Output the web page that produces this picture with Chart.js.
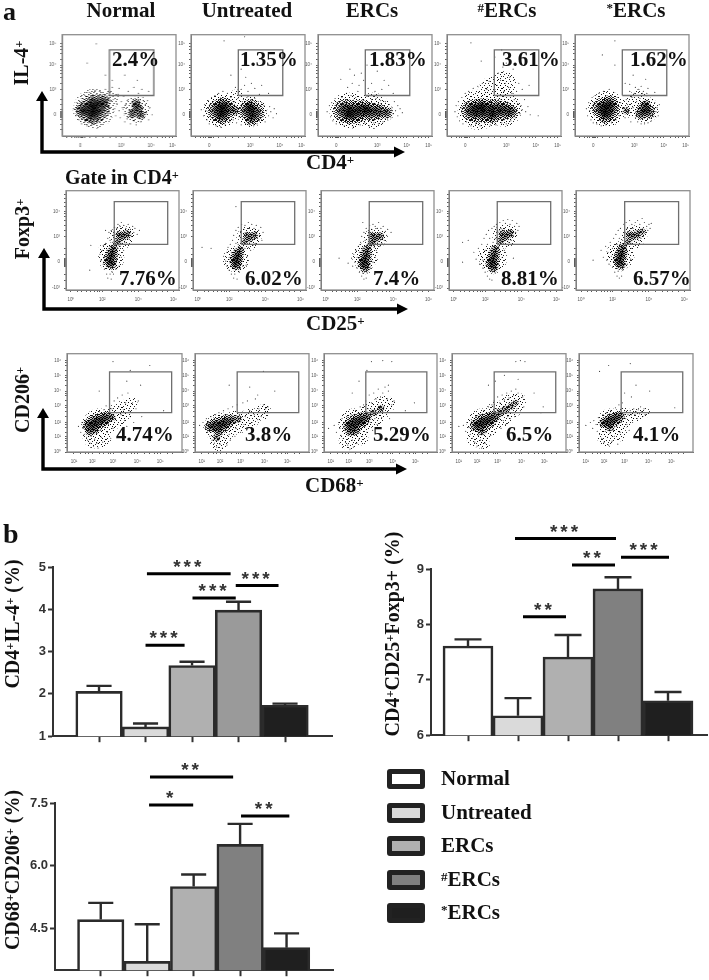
<!DOCTYPE html>
<html><head><meta charset="utf-8">
<script src="https://cdn.jsdelivr.net/npm/chart.js@4"></script>
<style>
html,body{margin:0;padding:0;background:#fff;width:709px;height:980px;overflow:hidden}
#page{position:relative;width:709px;height:980px;overflow:hidden}
canvas{position:absolute}
.t{position:absolute;font:bold 21px "Liberation Serif",serif;color:#111;white-space:nowrap;line-height:1;transform:translateY(-50%)}
.c{transform:translate(-50%,-50%)}
.r{transform:translate(-50%,-50%) rotate(-90deg)}
.t sup{font-size:.62em;line-height:0;vertical-align:baseline;position:relative;top:-.42em}
.sw{position:absolute;width:28px;height:10px;border:5px solid #222;border-radius:3px}
svg{position:absolute;left:0;top:0}
</style></head><body><div id="page"></div>
<script>
/* ---------- data ---------- */
const groups = ['Normal','Untreated','ERCs','<sup>#</sup>ERCs','<sup>*</sup>ERCs'];
const groupFills = ['#ffffff','#dadada','#b0b0b0','#808080','#1f1f1f'];

const il4Pct  = ['2.4%','1.35%','1.83%','3.61%','1.62%'];
const foxPct  = ['7.76%','6.02%','7.4%','8.81%','6.57%'];
const cd206Pct= ['4.74%','3.8%','5.29%','6.5%','4.1%'];

/* cytometry axes, channel units 0-100 */
const il4XTicks = [16,52,78,97], il4XLabels = ['0','10³','10⁴','10⁵'];
const il4XMinor = [4,8,11,13,15,17,18,20,24,30,36,42,47,60,65,69,72,75,84,88,91,94];
const il4YTicks = [21,46,70,91.5], il4YLabels = ['0','10³','10⁴','10⁵'];
const il4YMinor = [6,11,16,18,19,20,22,23,24,26,31,36,52,58,62,65,68,76,81,85,88];
const foxXTicks = [4.4,32,64,95], foxXLabels = ['10⁰','10²','10⁴','10⁶'];
const foxXMinor = [10,14,18,22,25,28,30,40,46,50,54,58,61,70,76,80,85,90];
const foxYTicks = [2,28,54,79], foxYLabels = ['-10³','0','10³','10⁴'];
const foxYMinor = [10,16,24,25,26,27,29,30,31,32,36,42,60,65,70,74,77,84,88,92,96];
const cdXTicks = [6,22,40,61,81], cdXLabels = ['10¹','10²','10³','10⁴','10⁵'];
const cdXMinor = [12,16,19,28,32,36,38,47,52,56,59,67,72,76,79,87,92];
const cdYTicks = [0,15.5,30,47,62,78,93], cdYLabels = ['10⁰','10¹','10²','10³','10⁴','10⁵','10⁶'];
const cdYMinor = [5,9,12,14,20,25,28,36,41,45,52,57,60,68,73,76,83,88,91];
const il4Gate = [41.5,40,80.5,85], foxGate = [42.7,46,90,89], cdGate = [37,40,91,81.5];

/* dense regions: x,y,radius  |  thin clouds: x,y,radius  |  single events: x,y */
const il4Core1=[24,26,10,31,27,10,27,21,8,28,32,8,36,34,6,18,25,6,66,27,5,62,22,4,69,21,4,65,32,4];
const il4Thin1=[28,27,20,65,26,13,42,36,9];
const il4Dots1=[10,27,12,20,13,33,14,24,15,16,16,30,17,37,17,12,18,21,20,40,20,14,22,10,24,43,26,11,29,45,31,13,33,44,35,16,37,19,38,46,40,24,41,29,42,43,44,48,45,36,46,27,47,20,48,32,49,41,50,25,51,18,52,34,53,28,54,39,55,22,55,14,56,31,57,17,58,36,59,26,60,12,60,40,61,20,62,30,63,15,64,37,65,11,66,19,67,42,68,33,69,14,70,27,71,38,72,18,73,31,74,23,75,35,76,16,77,28,79,21,44,55,50,47,58,44,63,48,70,46,76,44,55,60,38,60,22,72,66,55,30,91];
const il4Core2=[24,25,9,30,26,9,27,20,7,28,30,7,50,25,8,56,23,8,53,18,6,52,29,6,38,25,4];
const il4Thin2=[26,25,17,53,24,15,40,38,8];
const il4Dots2=[9,26,11,20,12,31,13,25,14,16,15,35,16,12,18,38,19,14,21,40,22,10,24,42,26,9,28,44,30,11,32,42,34,14,35,38,37,16,38,34,40,13,41,37,42,19,43,40,44,11,45,34,46,36,48,12,49,38,50,39,51,11,53,36,55,10,56,37,58,12,59,34,60,15,62,33,63,19,64,30,65,14,66,25,68,20,69,29,70,24,72,18,73,27,75,22,44,46,47,50,50,44,53,52,48,58,56,47,60,41,62,50,68,42,39,48,35,60,44,66,29,94,47,98];
const il4Core3=[24,25,10,31,24,10,38,25,9,46,24,8,53,24,7,60,23,5,28,21,7,42,27,6];
const il4Thin3=[28,25,18,48,25,18];
const il4Dots3=[8,24,10,30,11,19,12,33,13,15,14,27,15,37,16,12,18,40,19,13,21,38,23,10,25,42,27,12,29,40,31,9,33,38,35,44,37,11,39,36,41,13,43,39,45,10,47,36,49,13,51,37,53,12,55,35,57,14,59,34,61,16,62,31,64,18,65,28,66,22,67,34,68,25,70,20,70,30,72,27,74,23,44,47,47,52,40,55,36,50,32,60,28,66,50,44,56,46,58,55,62,50,66,42,30,52,26,48,20,56,43,70,38,62,52,64];
const il4Core4=[22,25,9,28,25,10,35,25,10,43,26,9,50,25,8,56,24,6,30,30,6,40,20,6];
const il4Thin4=[28,26,20,50,27,18,40,45,14,50,52,12];
const il4Dots4=[7,24,8,30,9,19,10,34,11,15,12,28,13,38,14,12,16,42,17,14,19,44,21,10,23,47,25,12,27,49,29,10,31,52,33,13,35,46,37,54,38,11,39,42,41,58,42,46,43,11,44,50,45,62,46,40,47,55,48,13,49,68,50,44,51,52,52,12,53,40,54,48,55,58,56,15,57,42,58,66,59,36,60,18,61,44,62,32,63,52,64,22,65,30,66,26,68,36,69,24,71,29,73,21,30,74,42,78,52,72,68,70,48,85,21,92,72,50,66,46,38,34,80,20];
const il4Core5=[24,27,9,29,26,10,27,21,7,30,32,7,61,27,6,64,24,6,58,22,5,62,31,4,45,25,3];
const il4Thin5=[28,27,18,62,26,13,46,28,10,55,38,8];
const il4Dots5=[10,27,11,20,12,33,13,25,14,16,15,38,16,13,18,40,19,12,21,42,23,10,25,44,27,11,30,46,32,13,34,43,36,16,37,38,39,20,40,33,41,24,42,28,43,40,44,18,45,36,46,31,47,23,48,44,49,14,50,38,51,28,52,42,53,18,54,34,55,14,56,46,57,37,58,12,59,42,60,44,61,12,63,42,64,13,66,40,67,15,68,36,69,19,70,33,71,24,72,28,73,20,74,31,48,51,53,48,58,49,64,47,70,43,44,52,51,60,62,56,35,70,24,80,35,94];

const foxCore1=[40,26,4.5,39,30,5.5,40,34,5.5,41,38,4.5,42,42,3.5,46,49,3.5,50,54,4,54,56,3.5,47,56,3];
const foxThin1=[40,32,13,49,53,12,55,57,7,35,40,7];
const foxDots1=[30,36,31,30,32,40,33,26,33,45,34,34,34,21,35,30,35,47,36,16,36,24,36,40,37,52,37,12,38,58,39,16,39,50,40,11,40,60,41,18,41,48,42,55,42,16,43,63,43,28,44,21,44,46,44,38,45,62,45,31,46,66,46,42,47,24,47,36,48,64,48,44,49,33,49,68,50,47,51,40,51,65,52,48,53,62,54,46,55,66,56,51,57,61,58,54,59,64,60,58,61,62,63,56,65,60,22,45,21,20,35,60];
const foxCore2=[38,25,4.5,38,29,5.5,39,33,5.5,40,37,4.5,42,41,3,46,49,3,50,52,3.5,54,55,3.5,48,55,3];
const foxThin2=[38,31,13,49,52,12,55,55,7];
const foxDots2=[27,34,29,29,30,38,30,24,31,43,32,33,32,20,33,28,33,46,34,16,34,38,35,22,35,50,36,12,36,55,37,16,38,60,38,47,39,11,40,63,40,46,41,18,41,54,42,59,42,22,43,66,43,30,44,46,44,24,45,61,45,36,46,65,46,42,47,25,47,58,48,34,49,68,49,43,50,62,51,40,52,66,53,45,54,62,55,47,56,65,57,52,58,60,59,55,60,63,61,50,62,58,8,43,16,42,38,84];
const foxCore3=[39,23,4.5,38,27,5.5,39,31,5.5,40,36,5,41,41,3.5,45,48,3.5,48,52,4,52,54,3.5,45,55,3];
const foxThin3=[39,34,13,47,51,11,53,53,7];
const foxDots3=[24,27,27,32,28,24,29,36,30,28,31,40,32,22,32,33,33,44,34,18,34,38,35,26,35,48,36,14,36,54,37,17,37,42,38,58,38,11,39,50,40,12,40,62,41,17,41,46,42,60,42,24,43,65,43,33,44,42,44,22,45,61,45,36,46,66,46,28,47,43,48,64,48,33,49,40,50,62,50,45,51,68,52,44,53,62,54,47,55,64,56,50,57,59,58,55,59,61,16,32,37,68,62,58];
const foxCore4=[39,23,4.5,38,27,5.5,39,31,5.5,40,36,5,41,41,3.5,46,50,3.5,50,54,4,54,57,3.5,47,57,3];
const foxThin4=[39,32,14,49,54,12,55,57,7,32,35,7];
const foxDots4=[12,48,17,50,22,38,24,31,26,42,27,26,28,36,29,46,30,22,30,30,31,52,32,18,32,40,33,25,33,56,34,14,34,46,35,34,35,60,36,11,36,52,37,19,38,62,38,10,39,48,40,64,41,17,41,52,42,66,42,22,43,34,43,60,44,44,44,26,45,68,45,38,46,62,47,33,47,46,48,70,49,40,49,60,50,67,51,44,52,71,53,48,54,66,55,50,56,70,57,54,58,64,59,58,60,67,61,60,62,64,57,32,12,28];
const foxCore5=[39,26,4.5,38,30,5.5,39,34,5.5,40,38,5,41,43,3.5,46,49,3,50,54,3.5,54,56,3.5,47,56,3,58,59,2.5];
const foxThin5=[39,35,14,50,53,12,57,57,7,33,38,7];
const foxDots5=[22,40,24,33,26,44,27,30,28,38,29,26,30,48,31,34,32,23,32,42,33,52,34,18,34,36,35,26,35,56,36,14,36,46,37,60,37,19,38,12,38,52,39,62,40,14,41,20,41,50,42,66,42,24,43,58,43,32,44,68,44,42,45,26,45,62,46,36,47,70,47,46,48,31,49,66,49,42,50,62,51,46,52,68,53,48,54,70,55,50,56,66,57,52,58,72,59,54,60,68,61,58,62,64,63,60,64,66,65,62,66,67,15,30];

const cdCore1=[19,27,5,23,29,7,27,31,7,31,33,6,35,35,5,24,23,4,20,21,4,39,35,3];
const cdThin1=[24,16,12,28,28,16,42,36,12,50,43,10,56,50,6,32,12,7];
const cdDots1=[10,26,12,20,13,30,14,24,15,18,16,32,17,15,17,25,18,12,19,34,20,9,21,16,22,36,23,6,24,13,25,38,26,19,26,9,27,4,28,41,29,22,30,15,31,10,32,43,33,25,34,47,35,20,36,28,37,49,38,14,38,37,39,44,40,24,41,52,42,34,43,40,44,55,44,28,45,46,46,20,47,38,48,58,49,43,50,32,51,50,52,26,53,60,54,42,55,36,57,50,58,30,60,44,62,52,65,36,28,62,52,72,64,68,84,42,55,83,72,88,40,92];
const cdCore2=[14,26,5,19,27,7,24,28,7,28,31,6,33,33,4,21,21,4,19,15,3,38,34,3];
const cdThin2=[21,10,9,22,24,15,36,30,12,48,34,10,58,40,8,62,44,5];
const cdDots2=[4,27,7,30,9,24,10,34,11,20,12,30,13,16,14,36,15,12,16,22,17,9,18,38,19,5,20,12,21,40,22,8,23,18,24,4,25,42,26,14,27,22,28,7,29,44,30,18,31,12,32,26,33,46,34,34,35,16,36,24,37,48,38,30,39,38,40,20,42,50,43,28,44,36,46,52,47,32,48,42,50,30,52,38,53,54,55,33,56,44,58,36,60,48,62,44,64,40,55,58,64,46,60,82,30,68,48,66,70,62];
const cdCore3=[22,27,5,26,29,7,30,31,7,34,33,6,38,36,4,27,23,5,23,21,4,44,40,3,50,44,3];
const cdThin3=[22,12,10,27,28,16,42,38,13,52,46,11,58,50,6,33,14,7];
const cdDots3=[4,24,9,27,11,20,13,30,14,24,15,17,16,34,17,14,18,22,19,10,20,36,21,7,22,18,23,3,24,38,25,12,26,5,27,17,28,42,29,9,30,20,31,13,32,46,33,24,34,16,35,48,36,26,37,52,38,20,39,44,40,58,41,30,42,50,43,22,44,60,45,34,46,54,47,28,48,64,49,40,50,56,51,35,52,60,53,46,54,66,55,40,56,54,57,62,58,34,60,48,62,52,25,60,31,72,38,83,57,68,72,42,80,50,42,92,52,93,60,92];
const cdCore4=[21,27,5,25,29,7,29,31,7,33,33,6,37,36,5,26,22,4,42,40,3.5,47,43,3.5,52,47,3,56,50,2.5];
const cdThin4=[22,16,11,27,28,16,41,38,14,52,47,12,58,52,8,28,8,6];
const cdDots4=[6,26,10,27,12,21,13,30,15,25,16,18,17,33,18,14,19,22,20,10,21,36,22,6,23,17,24,38,25,12,26,4,27,18,28,42,29,9,30,20,31,14,32,46,33,24,34,17,35,48,36,26,37,52,38,20,39,44,40,56,41,28,42,50,43,24,44,58,45,32,46,53,47,28,48,60,49,36,50,55,51,34,52,62,53,40,54,58,55,36,56,64,57,44,58,60,60,42,62,56,63,46,32,68,38,72,46,78,58,74,72,60,78,40,80,46,56,92,60,93,64,92];
const cdCore5=[22,30,4,26,31,6,30,33,6,34,35,5,27,26,4,37,37,3];
const cdThin5=[24,14,9,28,30,14,40,35,10,50,38,7,58,40,5,36,18,7];
const cdDots5=[6,27,10,30,12,24,13,32,15,28,16,21,17,35,18,18,19,26,20,14,21,38,22,10,23,21,24,40,25,15,26,7,27,19,28,42,29,11,30,22,31,16,32,45,33,26,34,8,35,48,36,20,37,30,38,50,39,24,40,42,41,34,42,28,43,38,44,22,45,42,46,38,47,30,48,44,49,38,50,41,51,34,52,43,53,39,54,46,55,41,56,36,57,44,58,38,40,60,46,56,50,68,62,62,18,82,26,88,45,90,84,45];

/* bar panels */
const il4Values=[2.06,1.22,2.67,3.98,1.73], il4Caps=[2.19,1.30,2.76,4.18,1.77], il4Ticks=[1,2,3,4,5];
const il4Brackets=[[2.03,3.83,4.84,'***'],[3.01,3.94,4.27,'***'],[3.94,4.86,4.56,'***'],[2.0,2.84,3.15,'***']];
const foxValues=[7.61,6.35,7.41,8.64,6.62], foxCaps=[7.73,6.67,7.81,8.85,6.78], foxTicks=[6,7,8,9];
const foxBrackets=[[1.94,3.96,9.55,'***'],[3.08,3.94,9.07,'**'],[4.06,5.02,9.21,'***'],[2.1,2.96,8.14,'**']];
const cdValues=[4.71,3.71,5.5,6.51,4.04], cdCaps=[5.11,4.60,5.79,7.0,4.38], cdTicks=[4.5,6,7.5];
const cdBrackets=[[2.06,3.85,8.12,'**'],[2.04,2.99,7.45,'*'],[4.02,5.06,7.19,'**']];

/* ---------- texture of the dense event clouds ---------- */
const sparseTile=["1000000100000010","0000100000100000","0010000000000100","0000001000010000","1000000000100001","0001000100000000","0000000000001000","0100010000000010","0000000010000000","0010000001000100","0000100000000000","1000000100010000","0000000000000011","0001001000100000","0100000000000100","0000010010000000"];
const denseTile=["1011001011010010","0100110100101101","1101001001110010","0010110110001101","1100101001101000","0011010110010110","1010011001101001","0101100110010110","1001011010110001","0110100101001110","1011010010110100","0100101101001011","1101100100110010","0010011011001101","1001110100100110","0110001011011001"];
function tile(rows,alpha){const c=document.createElement('canvas');c.width=16;c.height=16;const k=c.getContext('2d');k.fillStyle='rgba(0,0,0,'+alpha+')';
  rows.forEach((r,y)=>[...r].forEach((b,x)=>{if(b==='1')k.fillRect(x,y,1,1);}));return k.createPattern(c,'repeat');}

/* ---------- layout ---------- */
const page=document.getElementById('page');
const sparsePat=tile(sparseTile,.65),densePat=tile(denseTile,.75),thinPat=tile(sparseTile,.85);
function text(html,x,y,size,cls){const d=document.createElement('div');d.className='t '+(cls||'');d.innerHTML=html;
  d.style.left=x+'px';d.style.top=y+'px';d.style.fontSize=size+'px';page.appendChild(d);return d;}
function pairs(a){const o=[];for(let i=0;i<a.length;i+=2)o.push({x:a[i],y:a[i+1]});return o;}
function triples(a,s){const o=[];for(let i=0;i<a.length;i+=3)o.push({x:a[i],y:a[i+1],r:a[i+2]*s});return o;}
const blurPlugin={id:'blurCore',
  beforeDatasetDraw(c,a){const b=c.data.datasets[a.index].blur;if(b){c.ctx.save();c.ctx.filter='blur('+b+'px)';}},
  afterDatasetDraw(c,a){if(c.data.datasets[a.index].blur){c.ctx.restore();}},
  afterDraw(c){const k=c.ctx,a=c.chartArea;k.save();k.strokeStyle='#8f8f8f';k.lineWidth=1.3;k.strokeRect(a.left,a.top,a.right-a.left,a.bottom-a.top);k.restore();}};
function tickAxis(pos,minor,labels,len,pad,isX){const all=pos.concat(minor);return {type:'linear',min:0,max:100,
  afterBuildTicks:s=>{s.ticks=all.map(v=>({value:v}));},
  afterFit:s=>{if(isX)s.height=16;else s.width=24;},
  border:{color:'#666',width:1},
  grid:{drawOnChartArea:false,tickLength:len,tickColor:'#333',tickWidth:.8},
  ticks:{autoSkip:false,maxRotation:0,padding:pad,color:'#555',font:{size:4.5,family:'"Liberation Sans"'},
    callback:v=>{const i=pos.indexOf(v);return i<0?'':labels[i];}}};}
function panel(box,core,thin,dots,gate,xp,xm,xl,yp,ym,yl){
  const [L,T,R,B]=box;const cv=document.createElement('canvas');
  const w=R-L+24+4,h=B-T+2+16;cv.width=w;cv.height=h;cv.style.left=(L-24)+'px';cv.style.top=(T-2)+'px';
  cv.style.width=w+'px';cv.style.height=h+'px';page.appendChild(cv);
  const [g0,g1,g2,g3]=gate;
  new Chart(cv,{type:'scatter',plugins:[blurPlugin],data:{datasets:[
    {data:[{x:g0,y:g1},{x:g2,y:g1},{x:g2,y:g3},{x:g0,y:g3},{x:g0,y:g1}],showLine:true,pointRadius:0,borderColor:'#6f6f6f',borderWidth:1.3,fill:false,order:1},
    {data:pairs(dots),pointRadius:.6,borderWidth:0,backgroundColor:'rgba(0,0,0,.72)',order:2},
    {type:'bubble',blur:1.8,data:triples(core,.72),backgroundColor:'rgba(0,0,0,.55)',borderWidth:0,order:3},
    {type:'bubble',data:triples(core,1.2),backgroundColor:densePat,borderWidth:0,order:4},
    {type:'bubble',data:triples(core,1.6),backgroundColor:sparsePat,borderWidth:0,order:5},
    {type:'bubble',data:triples(thin,1),backgroundColor:thinPat,borderWidth:0,order:6}]},
   options:{responsive:false,animation:false,devicePixelRatio:1,layout:{autoPadding:false,padding:{top:2,right:4,left:0,bottom:0}},
    plugins:{legend:{display:false},tooltip:{enabled:false}},
    scales:{x:tickAxis(xp,xm,xl,2,5,true),y:tickAxis(yp,ym,yl,2,4,false)}}});
}
const row1Boxes=[[62,30,175.5,136],[191,30,305,136],[318,30,432,136],[447,30,561,136],[575,30,689,136]];
const row2Boxes=[[66,186,179,290],[193,186,306,290],[321,186,434,290],[449,186,562,290],[576,186,690,290]];
const row3Boxes=[[67,349,182,452],[195,349,309,452],[324,349,437,452],[452,349,566,452],[579,349,693,452]];
const row1Core=[il4Core1,il4Core2,il4Core3,il4Core4,il4Core5],row1Thin=[il4Thin1,il4Thin2,il4Thin3,il4Thin4,il4Thin5],row1Dots=[il4Dots1,il4Dots2,il4Dots3,il4Dots4,il4Dots5];
const row2Core=[foxCore1,foxCore2,foxCore3,foxCore4,foxCore5],row2Thin=[foxThin1,foxThin2,foxThin3,foxThin4,foxThin5],row2Dots=[foxDots1,foxDots2,foxDots3,foxDots4,foxDots5];
const row3Core=[cdCore1,cdCore2,cdCore3,cdCore4,cdCore5],row3Thin=[cdThin1,cdThin2,cdThin3,cdThin4,cdThin5],row3Dots=[cdDots1,cdDots2,cdDots3,cdDots4,cdDots5];
for(let i=0;i<5;i++){
  panel(row1Boxes[i],row1Core[i],row1Thin[i],row1Dots[i],il4Gate,il4XTicks,il4XMinor,il4XLabels,il4YTicks,il4YMinor,il4YLabels);
  panel(row2Boxes[i],row2Core[i],row2Thin[i],row2Dots[i],foxGate,foxXTicks,foxXMinor,foxXLabels,foxYTicks,foxYMinor,foxYLabels);
  panel(row3Boxes[i],row3Core[i],row3Thin[i],row3Dots[i],cdGate,cdXTicks,cdXMinor,cdXLabels,cdYTicks,cdYMinor,cdYLabels);
}
/* bar panels */
const barPlugin={id:'barMarks',afterDatasetsDraw(c){
  const o=c.options.plugins.barMarks,k=c.ctx,X=c.scales.x,Y=c.scales.y;k.save();k.strokeStyle='#2b2b2b';k.lineWidth=2.4;
  o.values.forEach((v,i)=>{const x=X.getPixelForValue(i+1),half=X.getPixelForValue(1.27)-X.getPixelForValue(1),y0=Y.getPixelForValue(v),y1=Y.getPixelForValue(o.caps[i]);
    k.beginPath();k.moveTo(x,y0);k.lineTo(x,y1);k.moveTo(x-half,y1);k.lineTo(x+half,y1);k.stroke();});
  k.strokeStyle='#000';k.lineWidth=3;k.fillStyle='#333';k.font='bold 19px "Liberation Sans"';k.textAlign='center';k.textBaseline='alphabetic';
  k.letterSpacing='3px';
  o.brackets.forEach(([a,b,v,m])=>{const x0=X.getPixelForValue(a),x1=X.getPixelForValue(b),y=Y.getPixelForValue(v);
    k.beginPath();k.moveTo(x0,y);k.lineTo(x1,y);k.stroke();k.fillText(m,(x0+x1)/2,y-1);});
  k.restore();}};
function barChart(left,top,w,h,axisW,padTop,padRight,vals,caps,ticks,brackets,xMin,xMax,yMin,yMax,fills,fmt){
  const cv=document.createElement('canvas');cv.width=w;cv.height=h;cv.style.left=left+'px';cv.style.top=top+'px';cv.style.width=w+'px';cv.style.height=h+'px';page.appendChild(cv);
  new Chart(cv,{type:'bar',plugins:[barPlugin],data:{datasets:[{data:vals.map((v,i)=>({x:i+1,y:v})),backgroundColor:fills,borderColor:'#2b2b2b',borderWidth:2.6,borderSkipped:false,barPercentage:1,categoryPercentage:1}]},
   options:{responsive:false,animation:false,devicePixelRatio:1,layout:{autoPadding:false,padding:{top:padTop,right:padRight,left:0,bottom:0}},
    plugins:{legend:{display:false},tooltip:{enabled:false},barMarks:{values:vals,caps:caps,brackets:brackets}},
    scales:{
      x:{type:'linear',offset:false,min:xMin,max:xMax,afterBuildTicks:s=>{s.ticks=[1,2,3,4,5].map(v=>({value:v}));},afterFit:s=>{s.height=8;},
         border:{color:'#333',width:2},grid:{offset:false,drawOnChartArea:false,tickLength:6,tickColor:'#333',tickWidth:2},ticks:{callback:()=>'',padding:0}},
      y:{type:'linear',min:yMin,max:yMax,afterBuildTicks:s=>{s.ticks=ticks.map(v=>({value:v}));},afterFit:s=>{s.width=axisW;},
         border:{color:'#333',width:2},grid:{drawOnChartArea:false,tickLength:5,tickColor:'#333',tickWidth:2},
         ticks:{autoSkip:false,padding:2,color:'#333',font:{size:13,weight:'bold',family:'"Liberation Sans"'},callback:fmt}}}}});
}
const fills1=groupFills.slice();fills1[3]='#9a9a9a';
barChart(0,550,340,196,53,17,8,il4Values,il4Caps,il4Ticks,il4Brackets,0.01,6.01,1,5,fills1,v=>String(v));
barChart(360,515,349,230,71,54,2,foxValues,foxCaps,foxTicks,foxBrackets,0.26,5.78,6,9,groupFills,v=>String(v));
barChart(0,760,340,220,55,43,7,cdValues,cdCaps,cdTicks,cdBrackets,0.015,6.0,3.5,7.5,groupFills,v=>v.toFixed(1));

/* arrows */
const arrows=[[42,91,152,405],[44,248,309,408],[43,408,469,407]];
let svg='<svg width="709" height="980">';
arrows.forEach(([x,t,b,r])=>{svg+=`<path d="M${x} ${t+9}V${b}H${r-9}" fill="none" stroke="#000" stroke-width="3.4"/>`+
 `<polygon points="${x},${t} ${x-6},${t+10} ${x+6},${t+10}"/><polygon points="${r},${b} ${r-11},${b-5.5} ${r-11},${b+5.5}"/>`;});
svg+='</svg>';page.insertAdjacentHTML('beforeend',svg);

/* text */
text('a',3,12,26);text('b',3,534,28);
const titleX=[121,247,372,507,636];
groups.forEach((g,i)=>text(g,titleX[i],10,21,'c'));
const pctRow1=[112,240,369,502,630],pctRow2=[119,245,373,501,633],pctRow3=[116,245,373,506,633];
il4Pct.forEach((s,i)=>text(s,pctRow1[i],59,21));
foxPct.forEach((s,i)=>text(s,pctRow2[i],278,21));
cd206Pct.forEach((s,i)=>text(s,pctRow3[i],434,21));
text('IL-4<sup>+</sup>',21,63,20,'r');text('Foxp3<sup>+</sup>',22,229,20,'r');text('CD206<sup>+</sup>',22,400,20,'r');
text('CD4<sup>+</sup>',306,162,21);text('CD25<sup>+</sup>',306,323,21);text('CD68<sup>+</sup>',305,485,21);
text('Gate in CD4<sup>+</sup>',65,177,20);
text('CD4<sup>+</sup>IL-4<sup>+</sup> (%)',12,624,20,'r');
text('CD4<sup>+</sup>CD25<sup>+</sup>Foxp3+ (%)',392,634,20,'r');
text('CD68<sup>+</sup>CD206<sup>+</sup> (%)',12,870,20,'r');
const legendY=[769,802.5,836,870,903];
groups.forEach((g,i)=>{const s=document.createElement('div');s.className='sw';s.style.left='387px';s.style.top=legendY[i]+'px';s.style.background=groupFills[i];page.appendChild(s);
  text(g,441,legendY[i]+9,21);});
</script></body></html>
